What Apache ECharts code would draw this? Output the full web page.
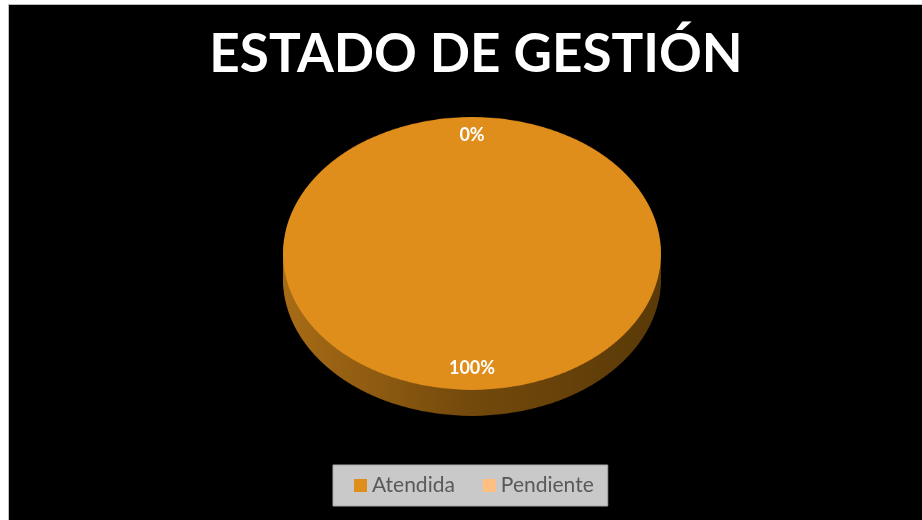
<!DOCTYPE html>
<html>
<head>
<meta charset="utf-8">
<script src="https://cdn.jsdelivr.net/npm/echarts@6/dist/echarts.min.js"></script>
<style>
html,body{margin:0;padding:0;width:922px;height:520px;overflow:hidden;background:#fff;}
#bg{position:absolute;left:8px;top:4px;width:914px;height:516px;background:#000;border-left:1px solid #bdbdbd;border-top:1px solid #bdbdbd;box-sizing:border-box;}
#pie{position:absolute;left:0;top:0;width:922px;height:720px;transform:scaleY(0.722);transform-origin:0 0;}
#over{position:absolute;left:0;top:0;width:922px;height:520px;}
</style>
</head>
<body>
<div id="bg"></div>
<div id="pie"></div>
<div id="over"></div>
<script>
const titleText = 'ESTADO DE GESTIÓN';
const categories = ['Atendida', 'Pendiente'];
const values = [100, 0];
const colors = ['#E08E1B', '#FFBF80'];

const data = categories.map((c, i) => ({ name: c, value: values[i], itemStyle: { color: colors[i] } }));

const sideGradient = new echarts.graphic.LinearGradient(0, 0, 1, 0, [
  { offset: 0, color: '#a86c16' },
  { offset: 0.5, color: '#73490c' },
  { offset: 1, color: '#5a3a08' }
]);

const cx = 472, cyU = 351, R = 189;
const pieSeries = [];
[36, 30, 24, 18, 12, 6].forEach(off => {
  pieSeries.push({
    type: 'pie', silent: true, animation: false,
    center: [cx, cyU + off], radius: R, startAngle: 90,
    label: { show: false }, labelLine: { show: false },
    itemStyle: { borderWidth: 0 },
    data: categories.map((c, i) => ({ name: c, value: values[i], itemStyle: { color: i === 0 ? sideGradient : '#8a5a20' } }))
  });
});
pieSeries.push({
  type: 'pie', silent: true, animation: false,
  center: [cx, cyU], radius: R, startAngle: 90,
  label: { show: false }, labelLine: { show: false },
  itemStyle: { borderWidth: 0 },
  data: data
});

const pieChart = echarts.init(document.getElementById('pie'), null, { renderer: 'canvas' });
pieChart.setOption({ animation: false, series: pieSeries });

const over = echarts.init(document.getElementById('over'), null, { renderer: 'canvas' });
over.setOption({
  animation: false,
  title: {
    text: titleText, left: 471, top: 23, textAlign: 'center',
    textStyle: { color: '#ffffff', fontFamily: 'Lato', fontWeight: 'bold', fontSize: 53 }
  },
  legend: {
    left: 333, top: 465,
    data: categories.map((c, i) => ({ name: c, itemStyle: { color: colors[i] } })),
    icon: 'rect', itemWidth: 13, itemHeight: 13, itemGap: 28,
    backgroundColor: '#c9c9c9', borderColor: '#a9a9a9', borderWidth: 1,
    padding: [10, 14, 10, 21],
    textStyle: { color: '#595959', fontFamily: 'Lato', fontSize: 21 },
    selectedMode: false
  },
  series: [{
    type: 'pie', silent: true,
    center: [cx, 252], radius: 227, startAngle: 90,
    avoidLabelOverlap: false,
    itemStyle: { color: 'rgba(0,0,0,0)', borderWidth: 0 },
    label: {
      show: true, position: 'inside', formatter: '{d}%',
      color: '#ffffff', fontFamily: 'Lato', fontWeight: 'bold', fontSize: 18
    },
    labelLine: { show: false },
    data: categories.map((c, i) => ({ name: c, value: values[i], itemStyle: { color: 'rgba(0,0,0,0)' } }))
  }]
});
</script>
</body>
</html>
